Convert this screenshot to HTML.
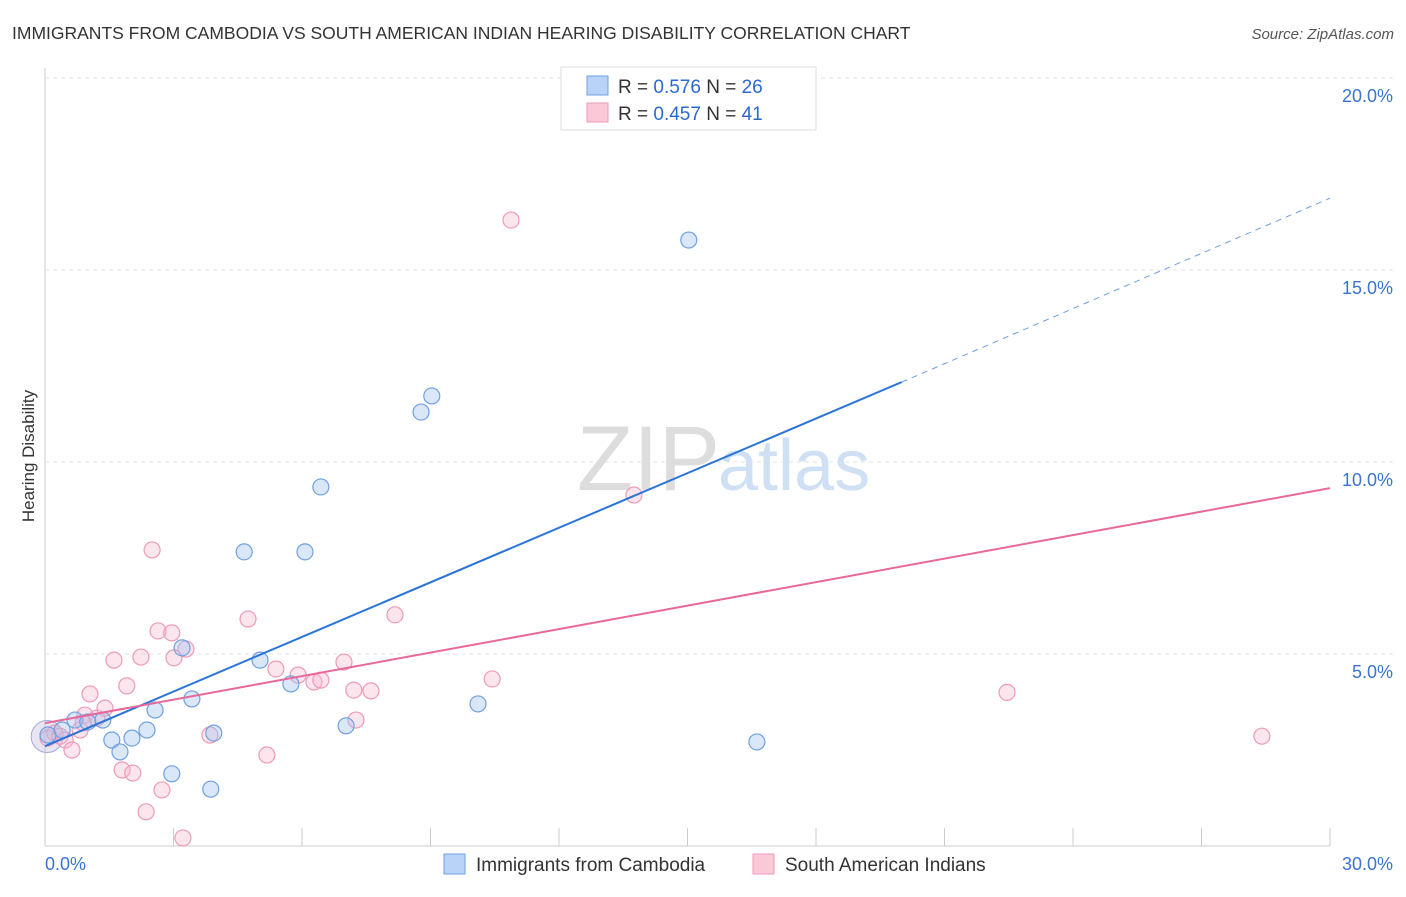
<!DOCTYPE html>
<html><head><meta charset="utf-8"><style>
body{margin:0;background:#fff;font-family:"Liberation Sans",sans-serif;}
svg text{font-family:"Liberation Sans",sans-serif;}
</style></head><body>
<svg id="chart" width="1406" height="892">
<text x="12" y="39" font-size="17.5" fill="#333">IMMIGRANTS FROM CAMBODIA VS SOUTH AMERICAN INDIAN HEARING DISABILITY CORRELATION CHART</text>
<text x="1394" y="39" font-size="15" fill="#555" text-anchor="end" font-style="italic">Source: ZipAtlas.com</text>
<text x="34" y="456" font-size="17" fill="#333" text-anchor="middle" transform="rotate(-90 34 456)">Hearing Disability</text>
<g id="grid"></g>
<text x="720" y="490" font-size="92" fill="#ddd" text-anchor="end" font-family="Liberation Serif">ZIP</text>
<text x="718" y="490" font-size="72" fill="#cfe0f5">atlas</text>
<g id="marks"></g>
<g>
<rect x="561" y="67" width="255" height="63" fill="#fff" stroke="#ddd"/>
<rect x="587" y="76" width="21" height="19" fill="#b8d3f5" stroke="#6fa0e0"/>
<rect x="587" y="103" width="21" height="19" fill="#f9c9d8" stroke="#ee9ab8"/>
<text x="618" y="93" font-size="19" fill="#333">R = <tspan fill="#2a6ad0">0.576</tspan>   N = <tspan fill="#2a6ad0">26</tspan></text>
<text x="618" y="120" font-size="19" fill="#333">R = <tspan fill="#2a6ad0">0.457</tspan>   N = <tspan fill="#2a6ad0">41</tspan></text>
</g>
<g>
<rect x="444" y="854" width="21" height="20" fill="#b8d3f5" stroke="#6fa0e0"/>
<text x="476" y="871" font-size="19" fill="#333">Immigrants from Cambodia</text>
<rect x="753" y="854" width="21" height="20" fill="#f9c9d8" stroke="#ee9ab8"/>
<text x="785" y="871" font-size="19" fill="#333">South American Indians</text>
</g>
</svg>
<script>
const yTicks=[5,10,15,20];
const yTickLabels=["5.0%","10.0%","15.0%","20.0%"];
const xTickLabels=["0.0%","30.0%"];
const blueX=[0.07,0.4,0.7,1.0,1.35,1.56,1.75,2.03,2.38,2.57,2.96,3.2,3.43,3.87,3.94,4.65,5.02,5.74,6.07,6.44,7.03,8.78,9.03,10.11,15.03,16.62];
const blueY=[2.89,3.02,3.28,3.23,3.28,2.76,2.45,2.81,3.02,3.54,1.88,5.16,3.83,1.48,2.94,7.66,4.84,4.22,7.66,9.35,3.13,11.3,11.72,3.7,15.78,2.71];
const pinkX=[0.07,0.23,0.35,0.47,0.63,0.82,0.93,1.05,1.21,1.4,1.61,1.8,1.91,2.05,2.24,2.36,2.5,2.64,2.73,2.96,3.01,3.22,3.29,3.85,4.74,5.18,5.39,5.91,6.28,6.44,6.98,7.21,7.26,7.61,8.17,10.44,10.88,13.75,22.46,28.41,0.89];
const pinkY=[2.81,2.94,2.86,2.76,2.5,3.02,3.41,3.96,3.33,3.59,4.84,1.98,4.17,1.9,4.92,0.89,7.71,5.6,1.46,5.55,4.9,0.21,5.13,2.89,5.91,2.37,4.61,4.45,4.27,4.32,4.79,4.06,3.28,4.04,6.02,4.35,16.3,9.14,4.0,2.86,3.21];
const blueLine=[[0,2.6],[20,12.08],[30,16.87]];
const pinkLine=[[0,3.2],[30,9.32]];
const NS="http://www.w3.org/2000/svg";
const X0=45,X1=1330,YB=846,PX=(X1-X0)/30,PY=192/5;
const sx=v=>X0+v*PX, sy=v=>YB-v*PY;
function mk(tag,attrs,parent){const e=document.createElementNS(NS,tag);for(const k in attrs)e.setAttribute(k,attrs[k]);parent.appendChild(e);return e;}
const grid=document.getElementById('grid'),marks=document.getElementById('marks');
const yax=mk('line',{x1:X0,x2:X0,y1:68,y2:YB,stroke:'#ccc'},grid);


const xax=mk('line',{x1:X0,x2:X1,y1:YB,y2:YB,stroke:'#ccc'},grid);


yTicks.forEach((t,i)=>{
 const g=mk('line',{x1:X0,x2:1394,y1:sy(t),y2:sy(t),stroke:'#e3e3e3','stroke-dasharray':'4,4'},grid);
 
 
 const l=mk('text',{x:1393,y:sy(t)+24,'font-size':18,fill:'#3a74d0','text-anchor':'end'},grid);
 l.textContent=yTickLabels[i];
 
 
});
for(let i=0;i<=10;i++){
 const t=mk('line',{x1:sx(i*3),x2:sx(i*3),y1:YB-18,y2:YB,stroke:'#ccc'},grid);
 
 
}
[[0,'start',45],[30,'end',1393]].forEach((d,i)=>{
 const l=mk('text',{x:d[2],y:870,'font-size':18,fill:'#3a74d0','text-anchor':d[1]},grid);
 l.textContent=xTickLabels[i];
 
 
});
const big=mk('circle',{cx:sx(0.05),cy:sy(2.85),r:16,fill:'rgba(190,180,220,0.35)',stroke:'#a8a8d8'},marks);


pinkX.forEach((v,i)=>{
 const c=mk('circle',{cx:sx(v),cy:sy(pinkY[i]),r:8,fill:'rgba(248,180,205,0.35)',stroke:'#ee9ab8','stroke-width':1.2},marks);
 
 
});
blueX.forEach((v,i)=>{
 const c=mk('circle',{cx:sx(v),cy:sy(blueY[i]),r:8,fill:'rgba(160,195,240,0.4)',stroke:'#6fa0e0','stroke-width':1.2},marks);
 
 
});
const bl=mk('line',{x1:sx(blueLine[0][0]),y1:sy(blueLine[0][1]),x2:sx(blueLine[1][0]),y2:sy(blueLine[1][1]),stroke:'#2a74d8','stroke-width':2},marks);


const bd=mk('line',{x1:sx(blueLine[1][0]),y1:sy(blueLine[1][1]),x2:sx(blueLine[2][0]),y2:sy(blueLine[2][1]),stroke:'#6f9fe0','stroke-width':1,'stroke-dasharray':'6,5'},marks);


const pl=mk('line',{x1:sx(pinkLine[0][0]),y1:sy(pinkLine[0][1]),x2:sx(pinkLine[1][0]),y2:sy(pinkLine[1][1]),stroke:'#e8689a','stroke-width':2},marks);


</script>
</body></html>
